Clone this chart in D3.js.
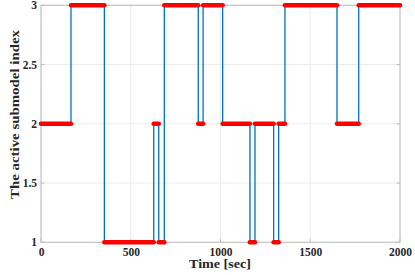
<!DOCTYPE html>
<html><head><meta charset="utf-8">
<script src="https://cdn.jsdelivr.net/npm/d3@7"></script>
<style>body{margin:0;background:#fff}svg{display:block}text{font-family:"Liberation Serif","Times New Roman",serif;font-weight:bold;fill:#262626}</style>
</head><body><div id="c"></div>
<script>
// Step series: each segment [start, end) at a submodel level
const segStart = [0, 167, 353, 628, 656, 687, 876, 903, 1012, 1164, 1192, 1296, 1324, 1359, 1649, 1770];
const segEnd   = [167, 353, 628, 656, 687, 876, 903, 1012, 1164, 1192, 1296, 1324, 1359, 1649, 1770, 2000];
const segLevel = [2, 3, 1, 2, 1, 3, 2, 3, 2, 1, 2, 1, 2, 3, 2, 3];
const xTicks = [0, 500, 1000, 1500, 2000];
const yTicks = [1, 1.5, 2, 2.5, 3];
const yTickLabels = ["1", "1.5", "2", "2.5", "3"];

const W = 415, H = 275;
const svg = d3.select("#c").append("svg").attr("width", W).attr("height", H);
const x = d3.scaleLinear().domain([0, 2000]).range([41, 400]);
const y = d3.scaleLinear().domain([1, 3]).range([242.3, 5.3]);

// grid
svg.append("g").selectAll("line").data(xTicks).join("line")
  .attr("x1", d => x(d)).attr("x2", d => x(d)).attr("y1", y(1)).attr("y2", y(3))
  .attr("stroke", "#ebebeb").attr("stroke-width", 1);
svg.append("g").selectAll("line").data(yTicks).join("line")
  .attr("y1", d => y(d)).attr("y2", d => y(d)).attr("x1", x(0)).attr("x2", x(2000))
  .attr("stroke", "#ebebeb").attr("stroke-width", 1);

// box
svg.append("rect").attr("x", x(0)).attr("y", y(3)).attr("width", x(2000) - x(0)).attr("height", y(1) - y(3))
  .attr("fill", "none").attr("stroke", "#bcbcbc").attr("stroke-width", 1);

// axes ticks
const xa = svg.append("g").attr("transform", `translate(0,${y(1)})`)
  .call(d3.axisBottom(x).tickValues(xTicks).tickSize(0).tickPadding(6).tickFormat(d3.format("d")));
const ya = svg.append("g").attr("transform", `translate(${x(0)},0)`)
  .call(d3.axisLeft(y).tickValues(yTicks).tickSize(0).tickPadding(4).tickFormat((d, i) => yTickLabels[i]));
[xa, ya].forEach(a => { a.select(".domain").remove(); a.selectAll("text").style("font-size", "11.5px").attr("fill", "#262626"); });
// small inner ticks
svg.append("g").selectAll("line").data(xTicks).join("line")
  .attr("x1", d => x(d)).attr("x2", d => x(d)).attr("y1", y(1)).attr("y2", y(1) - 3.5)
  .attr("stroke", "#bcbcbc");
svg.append("g").selectAll("line").data(yTicks).join("line")
  .attr("y1", d => y(d)).attr("y2", d => y(d)).attr("x1", x(0)).attr("x2", x(0) + 3.5)
  .attr("stroke", "#bcbcbc");
svg.append("g").selectAll("line").data(yTicks).join("line")
  .attr("y1", d => y(d)).attr("y2", d => y(d)).attr("x1", x(2000)).attr("x2", x(2000) - 3.5)
  .attr("stroke", "#bcbcbc");

// step line
const pts = [];
segStart.forEach((s, i) => { pts.push([s, segLevel[i]]); pts.push([segEnd[i], segLevel[i]]); });
const line = d3.line().x(d => x(d[0])).y(d => y(d[1]));
svg.append("path").attr("d", line(pts)).attr("fill", "none").attr("stroke", "#0072BD").attr("stroke-width", 1.3);

// dense red markers drawn as thick rounded runs
svg.append("g").selectAll("line").data(segStart).join("line")
  .attr("x1", (d, i) => x(d)).attr("x2", (d, i) => x(segEnd[i]))
  .attr("y1", (d, i) => y(segLevel[i])).attr("y2", (d, i) => y(segLevel[i]))
  .attr("stroke", "#ff0000").attr("stroke-width", 4.6).attr("stroke-linecap", "round");

// labels
svg.append("text").attr("x", 220).attr("y", 268).attr("text-anchor", "middle")
  .attr("textLength", 62).attr("lengthAdjust", "spacingAndGlyphs")
  .style("font-size", "12.5px").text("Time [sec]");
svg.append("text").attr("transform", `translate(18.5,114.5) rotate(-90)`).attr("text-anchor", "middle")
  .attr("textLength", 169).attr("lengthAdjust", "spacingAndGlyphs")
  .style("font-size", "12.5px").text("The active submodel index");
</script></body></html>
